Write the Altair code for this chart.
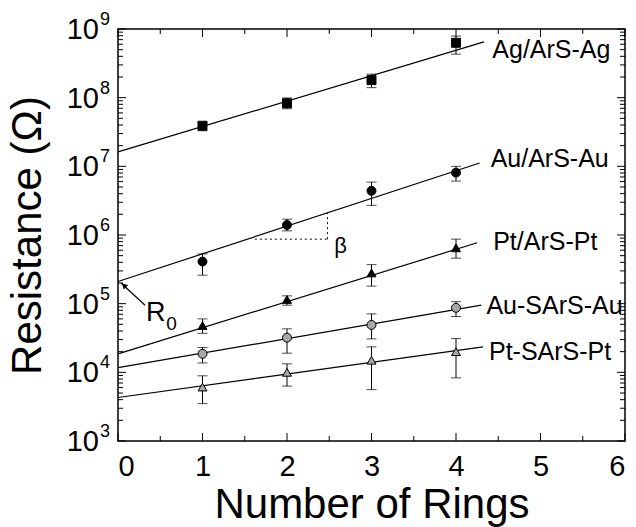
import altair as alt
import pandas as pd

FONT = "Liberation Sans"

# Measured resistance vs number of rings, with error-bar limits
series = ["Ag/ArS-Ag", "Au/ArS-Au", "Pt/ArS-Pt", "Au-SArS-Au", "Pt-SArS-Pt"]
rings = [1, 2, 3, 4]

r_values = {
    "Ag/ArS-Ag": [3.9e7, 8.3e7, 1.8e8, 6.3e8],
    "Au/ArS-Au": [4.1e5, 1.4e6, 4.4e6, 8.1e6],
    "Pt/ArS-Pt": [4.8e4, 1.15e5, 2.8e5, 6.5e5],
    "Au-SArS-Au": [1.86e4, 3.2e4, 4.9e4, 8.7e4],
    "Pt-SArS-Pt": [6.1e3, 1.0e4, 1.5e4, 2.0e4],
}
r_low = {
    "Ag/ArS-Ag": [3.3e7, 6.9e7, 1.4e8, 4.3e8],
    "Au/ArS-Au": [2.6e5, 1.15e6, 2.7e6, 6.1e6],
    "Pt/ArS-Pt": [3.7e4, 9.5e4, 1.8e5, 4.6e5],
    "Au-SArS-Au": [1.37e4, 1.9e4, 3.07e4, 6.5e4],
    "Pt-SArS-Pt": [3.5e3, 6.3e3, 5.6e3, 8.3e3],
}
r_high = {
    "Ag/ArS-Ag": [4.4e7, 9.9e7, 2.2e8, 7.9e8],
    "Au/ArS-Au": [5.3e5, 1.7e6, 5.9e6, 1.0e7],
    "Pt/ArS-Pt": [6.0e4, 1.3e5, 3.7e5, 8.7e5],
    "Au-SArS-Au": [2.3e4, 4.3e4, 7.1e4, 1.07e5],
    "Pt-SArS-Pt": [8.9e3, 1.33e4, 2.35e4, 3.1e4],
}

# Exponential fits: end points (rings, resistance)
fit_x = {
    "Ag/ArS-Ag": [0, 4.33],
    "Au/ArS-Au": [0, 4.28],
    "Pt/ArS-Pt": [0, 4.25],
    "Au-SArS-Au": [0, 4.30],
    "Pt-SArS-Pt": [0, 4.32],
}
fit_r = {
    "Ag/ArS-Ag": [1.62e7, 6.5e8],
    "Au/ArS-Au": [2.1e5, 1.12e7],
    "Pt/ArS-Pt": [1.86e4, 7.7e5],
    "Au-SArS-Au": [1.17e4, 9.5e4],
    "Pt-SArS-Pt": [4.3e3, 2.35e4],
}

# Series label anchors
label_x = [4.43, 4.41, 4.44, 4.36, 4.39]
label_r = [4.9e8, 1.3e7, 7.9e5, 9.3e4, 2.0e4]

shapes = ["square", "circle", "triangle-up", "circle", "triangle-up"]
fills = ["black", "black", "black", "#a8a8a8", "#a8a8a8"]

# Slope (beta) guide and intercept (R0) arrow
beta_h_x = [1.62, 2.48]
beta_h_r = [8.7e5, 8.7e5]
beta_v_x = [2.48, 2.48]
beta_v_r = [8.7e5, 2.1e6]
beta_label = (2.56, 7.0e5)
arrow_x = [0.32, 0.035]
arrow_r = [9.5e4, 2.0e5]
arrow_head = (0.071, 1.85e5)
r0_label = (0.33, 5.5e4)
r0_sub = (0.57, 4.2e4)

x_major = [0, 1, 2, 3, 4, 5, 6]
x_minor = [0.5, 1.5, 2.5, 3.5, 4.5, 5.5]
decades = [3, 4, 5, 6, 7, 8, 9]
y_major = [10.0 ** e for e in decades]
y_minor = [k * 10.0 ** e for e in decades[:-1] for k in range(2, 10)]

W, H = 507, 412

pts = pd.DataFrame(
    [
        {"series": s, "rings": n, "r": r_values[s][i], "lo": r_low[s][i], "hi": r_high[s][i]}
        for s in series
        for i, n in enumerate(rings)
    ]
)
fits = pd.DataFrame(
    [{"series": s, "rings": x, "r": r} for s in series for x, r in zip(fit_x[s], fit_r[s])]
)
labels = pd.DataFrame({"series": series, "rings": label_x, "r": label_r})

xs = alt.Scale(domain=[0, 6], nice=False, zero=False)
ys = alt.Scale(type="log", domain=[1e3, 1e9], nice=False)

x_axis = alt.Axis(
    values=x_major, format="d", labelFontSize=29, labelFont=FONT, labelColor="black",
    ticks=False, tickSize=0, domain=False, grid=False, labelPadding=11,
    title="Number of Rings", titleFont=FONT, titleFontSize=42,
    titleFontWeight="normal", titleColor="black", titlePadding=3,
)
y_axis = alt.Axis(
    labels=False, ticks=False, domain=False, grid=False,
    title="Resistance (Ω)", titleFont=FONT, titleFontSize=42,
    titleFontWeight="normal", titleColor="black", titlePadding=69,
)

X = alt.X("rings:Q", scale=xs, axis=x_axis)
Y = alt.Y("r:Q", scale=ys, axis=y_axis)
xq = alt.X("rings:Q", scale=xs)
yq = alt.Y("r:Q", scale=ys)

fit_lines = alt.Chart(fits).mark_line(color="black", strokeWidth=1.2).encode(
    x=X, y=Y, detail="series:N"
)

err_rules = alt.Chart(pts).mark_rule(color="black", strokeWidth=1).encode(
    x=xq, y=alt.Y("lo:Q", scale=ys), y2="hi:Q"
)
err_caps_lo = alt.Chart(pts).mark_tick(
    orient="horizontal", color="black", size=10, thickness=1
).encode(x=xq, y=alt.Y("lo:Q", scale=ys))
err_caps_hi = alt.Chart(pts).mark_tick(
    orient="horizontal", color="black", size=10, thickness=1
).encode(x=xq, y=alt.Y("hi:Q", scale=ys))

markers = alt.Chart(pts).mark_point(filled=True, size=80, stroke="black", strokeWidth=1, opacity=1).encode(
    x=xq,
    y=yq,
    shape=alt.Shape("series:N", scale=alt.Scale(domain=series, range=shapes), legend=None),
    fill=alt.Fill("series:N", scale=alt.Scale(domain=series, range=fills), legend=None),
)

series_text = alt.Chart(labels).mark_text(
    align="left", baseline="middle", font=FONT, fontSize=25, color="black"
).encode(x=xq, y=yq, text="series:N")

beta_h = alt.Chart(pd.DataFrame({"rings": beta_h_x, "r": beta_h_r})).mark_line(
    color="black", strokeWidth=1, strokeDash=[2, 3]
).encode(x=xq, y=yq)
beta_v = alt.Chart(pd.DataFrame({"rings": beta_v_x, "r": beta_v_r})).mark_line(
    color="black", strokeWidth=1, strokeDash=[2, 3]
).encode(x=xq, y=yq)
beta_text = alt.Chart(pd.DataFrame({"rings": [beta_label[0]], "r": [beta_label[1]], "t": ["β"]})).mark_text(
    align="left", baseline="middle", font=FONT, fontSize=22, color="black"
).encode(x=xq, y=yq, text="t:N")

arrow_line = alt.Chart(pd.DataFrame({"rings": arrow_x, "r": arrow_r})).mark_line(
    color="black", strokeWidth=1.2
).encode(x=xq, y=yq)
arrow_tip = alt.Chart(pd.DataFrame({"rings": [arrow_head[0]], "r": [arrow_head[1]]})).mark_point(
    shape="triangle-up", filled=True, color="black", size=40, angle=313, opacity=1
).encode(x=xq, y=yq)
r0_main = alt.Chart(pd.DataFrame({"rings": [r0_label[0]], "r": [r0_label[1]], "t": ["R"]})).mark_text(
    align="left", baseline="alphabetic", font=FONT, fontSize=27, color="black"
).encode(x=xq, y=yq, text="t:N")
r0_subs = alt.Chart(pd.DataFrame({"rings": [r0_sub[0]], "r": [r0_sub[1]], "t": ["0"]})).mark_text(
    align="left", baseline="alphabetic", font=FONT, fontSize=19, color="black"
).encode(x=xq, y=yq, text="t:N")

# Inward ticks on all four sides
xmaj = pd.DataFrame({"rings": x_major})
xmin = pd.DataFrame({"rings": x_minor})
ymaj = pd.DataFrame({"r": y_major})
ymin = pd.DataFrame({"r": y_minor})


def xticks(df, length):
    bottom = alt.Chart(df).mark_rule(color="black", strokeWidth=1).encode(
        x=xq, y=alt.value(H), y2=alt.value(H - length)
    )
    top = alt.Chart(df).mark_rule(color="black", strokeWidth=1).encode(
        x=xq, y=alt.value(0), y2=alt.value(length)
    )
    return bottom + top


def yticks(df, length):
    left = alt.Chart(df).mark_rule(color="black", strokeWidth=1).encode(
        y=yq, x=alt.value(0), x2=alt.value(length)
    )
    right = alt.Chart(df).mark_rule(color="black", strokeWidth=1).encode(
        y=yq, x=alt.value(W), x2=alt.value(W - length)
    )
    return left + right


# Decade labels drawn as 10 with a raised exponent
dec_df = pd.DataFrame({"r": y_major, "e": [str(e) for e in decades]})
ten_text = alt.Chart(dec_df).mark_text(
    align="right", baseline="alphabetic", font=FONT, fontSize=29, color="black", dy=10
).encode(y=yq, x=alt.value(-19), text=alt.value("10"))
exp_text = alt.Chart(dec_df).mark_text(
    align="left", baseline="alphabetic", font=FONT, fontSize=18, color="black", dy=-4
).encode(y=yq, x=alt.value(-18), text="e:N")

chart = alt.layer(
    fit_lines,
    beta_h,
    beta_v,
    arrow_line,
    arrow_tip,
    err_rules,
    err_caps_lo,
    err_caps_hi,
    markers,
    series_text,
    beta_text,
    r0_main,
    r0_subs,
    xticks(xmaj, 8),
    xticks(xmin, 5),
    yticks(ymaj, 8),
    yticks(ymin, 5),
    ten_text,
    exp_text,
).properties(
    width=W,
    height=H,
    autosize=alt.AutoSizeParams(type="none"),
    padding={"left": 118, "top": 29, "right": 11, "bottom": 86},
    background="white",
).configure_view(
    stroke="black", strokeWidth=1.5
)

chart.save("out.html", embed_options={"renderer": "svg", "actions": False})
